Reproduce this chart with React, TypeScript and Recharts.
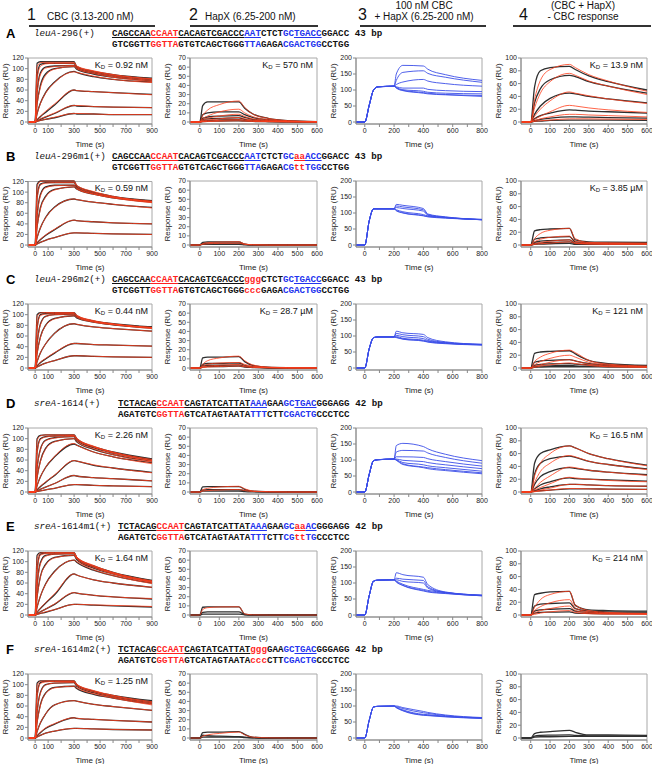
import React from "react";
import { LineChart, Line, XAxis, YAxis, ReferenceArea } from "recharts";

// sample times (s) per column
const T1 = [-55, 0, 15, 40, 80, 150, 300, 320, 450, 600, 900];
const T2 = [-50, 0, 15, 40, 100, 200, 230, 270, 350, 450, 600];
const T3 = [-60, 0, 30, 60, 90, 200, 215, 260, 400, 430, 550, 800];
const T4 = [-50, 0, 20, 50, 100, 200, 230, 300, 400, 600];

const HEADERS = ["CBC (3.13-200 nM)", "HapX (6.25-200 nM)"];
const HEADER3 = ["100 nM CBC", "+ HapX (6.25-200 nM)"];
const HEADER4 = ["(CBC + HapX)", "- CBC response"];

const LETTERS = ["A", "B", "C", "D", "E", "F"];
const GENES = ["leuA", "leuA", "leuA", "sreA", "sreA", "sreA"];
const SITES = ["-296(+)", "-296m1(+)", "-296m2(+)", "-1614(+)", "-1614m1(+)", "-1614m2(+)"];
const LENGTHS = ["43 bp", "43 bp", "43 bp", "42 bp", "42 bp", "42 bp"];

const TOP_STRANDS = [
  "CAGCCAA|r:CCAAT|CACAGTCGACCC|b:AAT|CTCT|b:GCTGACC|GGACC",
  "CAGCCAA|r:CCAAT|CACAGTCGACCC|b:AAT|CTCT|b:GC|r:aa|b:ACC|GGACC",
  "CAGCCAA|r:CCAAT|CACAGTCGACCC|r:ggg|CTCT|b:GCTGACC|GGACC",
  "TCTACAG|r:CCAAT|CAGTATCATTAT|b:AAA|GAA|b:GCTGAC|GGGAGG",
  "TCTACAG|r:CCAAT|CAGTATCATTAT|b:AAA|GAA|b:GC|r:aa|b:AC|GGGAGG",
  "TCTACAG|r:CCAAT|CAGTATCATTAT|r:ggg|GAA|b:GCTGAC|GGGAGG",
];
const BOTTOM_STRANDS = [
  "GTCGGTT|r:GGTTA|GTGTCAGCTGGG|b:TTA|GAGA|b:CGACTGG|CCTGG",
  "GTCGGTT|r:GGTTA|GTGTCAGCTGGG|b:TTA|GAGA|b:CG|r:tt|b:TGG|CCTGG",
  "GTCGGTT|r:GGTTA|GTGTCAGCTGGG|r:ccc|GAGA|b:CGACTGG|CCTGG",
  "AGATGTC|r:GGTTA|GTCATAGTAATA|b:TTT|CTT|b:CGACTG|CCCTCC",
  "AGATGTC|r:GGTTA|GTCATAGTAATA|b:TTT|CTT|b:CG|r:tt|b:TG|CCCTCC",
  "AGATGTC|r:GGTTA|GTCATAGTAATA|r:ccc|CTT|b:CGACTG|CCCTCC",
];
const UNDERLINES = [
  [[0, 27], [33, 38]],
  [[0, 27], [33, 38]],
  [[0, 27], [33, 38]],
  [[0, 27], [32, 36]],
  [[0, 27], [32, 36]],
  [[0, 27], [32, 36]],
];

const KD_COL1 = ["0.92 nM", "0.59 nM", "0.44 nM", "2.26 nM", "1.64 nM", "1.25 nM"];
const KD_COL2 = ["570 nM", "", "28.7 \u00b5M", "", "", ""];
const KD_COL4 = ["13.9 nM", "3.85 \u00b5M", "121 nM", "16.5 nM", "214 nM", ""];

// ---- row A
const A1_OBS = [
  [0, 0, 110, 113, 113, 113, 113, 104, 95, 89, 82],
  [0, 0, 85, 108, 110, 110, 110, 103, 94, 88, 81],
  [0, 0, 55, 92, 103, 105, 106, 101, 92, 86, 79],
  [0, 0, 35, 68, 90, 100, 104, 99, 90, 84, 77],
  [0, 0, 16, 35, 55, 75, 95, 93, 85, 80, 75],
  [0, 0, 4, 10, 18, 32, 60, 59, 57, 55, 52],
  [0, 0, 2, 5, 9, 16, 31, 30, 29, 28, 27],
  [0, 0, 1, 3, 5, 8, 16, 15, 15, 14, 14],
];
const A1_FIT = [
  [0, 0, 104, 111, 112, 112, 112, 105, 96, 89, 81],
  [0, 0, 80, 104, 109, 110, 110, 104, 95, 88, 80],
  [0, 0, 52, 88, 101, 104, 106, 102, 93, 86, 78],
  [0, 0, 33, 64, 87, 99, 104, 100, 91, 84, 76],
  [0, 0, 16, 34, 54, 74, 94, 93, 86, 80, 74],
  [0, 0, 5, 11, 20, 34, 60, 59, 57, 55, 51],
  [0, 0, 2, 6, 10, 17, 31, 31, 29, 28, 27],
  [0, 0, 1, 3, 5, 9, 16, 16, 15, 14, 14],
];
const A2_OBS = [
  [0, 0, 18, 22, 22, 22, 15, 9, 4, 1.5, 0.5],
  [0, 0, 8, 10, 11, 11, 8, 5, 2.5, 1, 0.3],
  [0, 0, 4, 5.5, 6.5, 7, 5, 3, 1.5, 0.6, 0.2],
  [0, 0, 2.5, 3.5, 4, 4.5, 3, 2, 1, 0.4, 0.1],
  [0, 0, 1.2, 1.8, 2.2, 2.5, 1.8, 1.2, 0.6, 0.2, 0],
  [0, 0, 0.5, 0.8, 1, 1.2, 0.9, 0.6, 0.3, 0.1, 0],
];
const A2_FIT = [
  [0, 0, 7, 13, 19, 23, 16, 9, 4, 1.5, 0.5],
  [0, 0, 3.5, 6.5, 11, 14, 10, 6, 2.5, 1, 0.3],
  [0, 0, 2, 4, 6.5, 8.5, 6, 3.5, 1.5, 0.6, 0.2],
  [0, 0, 1, 2, 3.5, 5, 3.5, 2, 1, 0.4, 0.1],
  [0, 0, 0.5, 1, 1.8, 2.7, 2, 1.2, 0.6, 0.2, 0],
  [0, 0, 0.3, 0.5, 0.9, 1.4, 1, 0.6, 0.3, 0.1, 0],
];
const A3_MIX = [
  [0, 0, 52, 100, 110, 112, 150, 177, 175, 165, 148, 130],
  [0, 0, 52, 100, 110, 112, 130, 155, 160, 152, 140, 124],
  [0, 0, 52, 100, 110, 112, 117, 125, 133, 128, 120, 112],
  [0, 0, 52, 100, 110, 112, 110, 106, 106, 102, 98, 95],
  [0, 0, 52, 100, 110, 112, 108, 101, 96, 93, 90, 88],
  [0, 0, 52, 100, 110, 112, 107, 99, 92, 90, 86, 83],
  [0, 0, 52, 100, 110, 112, 106, 98, 90, 88, 85, 80],
];
const A4_OBS = [
  [0, 0, 55, 80, 85, 87, 82, 72, 63, 50],
  [0, 0, 30, 52, 66, 73, 71, 63, 56, 45],
  [0, 0, 12, 25, 37, 45, 44, 40, 36, 30],
  [0, 0, 5, 10, 14, 19, 18.5, 17, 16, 14],
  [0, 0, 2, 4, 6, 8, 8, 7.5, 7, 6],
  [0, 0, 1, 1.5, 2.5, 3, 3, 3, 3, 2.5],
];
const A4_FIT = [
  [0, 0, 35, 65, 82, 90, 85, 74, 64, 48],
  [0, 0, 22, 45, 63, 76, 73, 64, 56, 43],
  [0, 0, 9, 20, 33, 47, 45, 41, 36, 29],
  [0, 0, 4, 9, 16, 26, 25, 22, 19, 15],
  [0, 0, 2, 5, 8, 12, 12, 11, 10, 8],
  [0, 0, 1, 2, 3, 5, 5, 5, 4.5, 4],
];

// ---- row B
const B1_OBS = [
  [0, 0, 115, 121, 121, 121, 121, 112, 100, 92, 84],
  [0, 0, 90, 115, 118, 118, 118, 110, 99, 91, 83],
  [0, 0, 55, 95, 110, 113, 113, 108, 97, 90, 82],
  [0, 0, 35, 70, 92, 105, 110, 106, 96, 89, 81],
  [0, 0, 14, 32, 52, 72, 87, 86, 81, 77, 71],
  [0, 0, 4, 10, 18, 29, 47, 46, 44, 42, 40],
  [0, 0, 2, 5, 9, 14, 23, 23, 22, 21, 20],
];
const B1_FIT = [
  [0, 0, 110, 120, 121, 121, 121, 113, 101, 92, 83],
  [0, 0, 86, 113, 117, 118, 118, 111, 99, 91, 82],
  [0, 0, 52, 92, 108, 112, 113, 108, 97, 90, 81],
  [0, 0, 33, 67, 90, 104, 110, 106, 96, 89, 80],
  [0, 0, 14, 32, 51, 71, 87, 86, 81, 77, 70],
  [0, 0, 5, 11, 19, 30, 47, 46, 44, 42, 40],
  [0, 0, 2, 5, 9, 14, 23, 23, 22, 21, 20],
];
const B2_OBS = [
  [0, 0, 3, 3.5, 3.5, 3.5, 1, 0.3, 0, 0, 0],
  [0, 0, 1.5, 2, 2, 2, 0.6, 0.2, 0, 0, 0],
  [0, 0, 0.6, 0.8, 0.8, 0.8, 0.3, 0, 0, 0, 0],
];
const B2_FIT = [
  [0, 0, 1.5, 2.5, 3.2, 3.6, 1.2, 0.3, 0, 0, 0],
  [0, 0, 0.8, 1.3, 1.8, 2, 0.7, 0.2, 0, 0, 0],
];
const B3_MIX = [
  [0, 0, 75, 113, 113, 113, 127, 124, 114, 97, 88, 80],
  [0, 0, 75, 113, 113, 113, 122, 119, 110, 95, 87, 80],
  [0, 0, 75, 113, 113, 113, 117, 114, 106, 93, 86, 79],
  [0, 0, 75, 113, 113, 113, 110, 104, 95, 91, 86, 79],
  [0, 0, 75, 113, 113, 113, 108, 101, 92, 89, 85, 79],
  [0, 0, 75, 113, 113, 113, 107, 100, 91, 88, 84, 79],
];
const B4_OBS = [
  [0, 0, 22, 24, 25, 26, 8, 5, 4.5, 4],
  [0, 0, 9, 11, 12, 13, 5, 3.5, 3, 3],
  [0, 0, 4, 6, 7, 8, 3, 2.5, 2, 2],
  [0, 0, 2, 3, 4, 5, 2, 1.5, 1.5, 1.5],
  [0, 0, 1, 1.5, 2, 2.5, 1, 1, 1, 1],
];
const B4_FIT = [
  [0, 0, 10, 18, 23, 26, 10, 4, 3.5, 3],
  [0, 0, 5, 9, 12, 14, 6, 3, 2.5, 2],
  [0, 0, 2, 4, 6, 8, 3.5, 2, 1.5, 1.5],
  [0, 0, 1, 2, 3, 5, 2.5, 1.5, 1, 1],
];

// ---- row C
const C1_OBS = [
  [0, 0, 100, 104, 104, 104, 104, 98, 88, 83, 77],
  [0, 0, 75, 100, 102, 102, 102, 97, 88, 82, 77],
  [0, 0, 45, 82, 97, 100, 101, 96, 87, 82, 76],
  [0, 0, 28, 58, 80, 93, 98, 94, 86, 81, 75],
  [0, 0, 12, 28, 45, 65, 83, 82, 77, 74, 69],
  [0, 0, 4, 10, 17, 28, 46, 46, 44, 43, 41],
  [0, 0, 2, 5, 9, 14, 23, 23, 22, 21, 20],
];
const C1_FIT = [
  [0, 0, 96, 103, 104, 104, 104, 99, 89, 83, 76],
  [0, 0, 72, 98, 101, 102, 102, 98, 88, 82, 76],
  [0, 0, 43, 80, 96, 100, 101, 97, 87, 82, 75],
  [0, 0, 27, 56, 79, 92, 98, 95, 86, 81, 74],
  [0, 0, 12, 28, 45, 65, 83, 82, 77, 74, 69],
  [0, 0, 5, 11, 18, 29, 46, 46, 44, 43, 41],
  [0, 0, 2, 5, 9, 14, 23, 23, 22, 21, 20],
];
const C2_OBS = [
  [0, 0, 11, 12, 12, 12.5, 7, 3, 1, 0.5, 0.3],
  [0, 0, 4, 5, 5, 5.5, 3, 1.5, 0.5, 0.2, 0],
  [0, 0, 2.5, 3, 3, 3.5, 2, 1, 0.3, 0, 0],
  [0, 0, 1, 1.5, 1.5, 2, 1, 0.5, 0, 0, 0],
];
const C2_FIT = [
  [0, 0, 4, 8, 11, 13, 8, 3.5, 1, 0.4, 0.2],
  [0, 0, 2, 4, 5.5, 6, 4, 2, 0.6, 0.2, 0],
  [0, 0, 1, 2, 3, 3.8, 2.5, 1.2, 0.4, 0, 0],
  [0, 0, 0.5, 1, 1.6, 2.2, 1.4, 0.6, 0.2, 0, 0],
];
const C3_MIX = [
  [0, 0, 60, 95, 97, 97, 115, 110, 105, 95, 82, 74],
  [0, 0, 60, 95, 97, 97, 108, 104, 98, 90, 80, 74],
  [0, 0, 60, 95, 97, 97, 102, 98, 92, 86, 79, 73],
  [0, 0, 60, 95, 97, 97, 98, 93, 87, 84, 78, 73],
  [0, 0, 60, 95, 97, 97, 96, 91, 85, 82, 77, 72],
  [0, 0, 60, 95, 97, 97, 95, 90, 84, 81, 76, 72],
];
const C4_OBS = [
  [0, 0, 23, 25, 26, 27, 22, 12, 7, 4],
  [0, 0, 9, 11, 12, 13, 11, 7, 5, 3.5],
  [0, 0, 4, 5.5, 6.5, 7, 6, 5, 4, 3],
  [0, 0, 2, 3, 3.5, 4, 3.5, 3, 2.5, 2],
  [0, 0, 1, 1.5, 2, 2, 2, 2, 1.5, 1.5],
];
const C4_FIT = [
  [0, 0, 10, 17, 23, 28, 24, 12, 6, 3],
  [0, 0, 5, 10, 15, 20, 17, 9, 4.5, 2],
  [0, 0, 2.5, 5, 9, 13, 11, 6, 3, 1.5],
  [0, 0, 1, 3, 5, 8, 7, 4, 2, 1],
];

// ---- row D
const D1_OBS = [
  [0, 0, 100, 106, 107, 107, 107, 100, 85, 75, 62],
  [0, 0, 75, 100, 104, 105, 106, 99, 84, 74, 61],
  [0, 0, 45, 80, 97, 102, 104, 97, 83, 73, 60],
  [0, 0, 28, 58, 82, 95, 100, 94, 80, 70, 58],
  [0, 0, 12, 28, 46, 66, 90, 88, 75, 66, 55],
  [0, 0, 4, 10, 18, 31, 59, 58, 50, 45, 37],
  [0, 0, 2, 5, 9, 16, 31, 30, 27, 25, 21],
  [0, 0, 1, 2, 4, 7, 14, 14, 12.5, 11.5, 10],
];
const D1_FIT = [
  [0, 0, 96, 105, 107, 107, 107, 101, 86, 75, 61],
  [0, 0, 72, 98, 103, 105, 106, 100, 85, 74, 59],
  [0, 0, 43, 78, 96, 101, 104, 98, 84, 73, 58],
  [0, 0, 27, 56, 80, 94, 100, 95, 81, 70, 56],
  [0, 0, 12, 28, 46, 67, 91, 88, 75, 66, 53],
  [0, 0, 5, 11, 19, 32, 59, 58, 51, 45, 36],
  [0, 0, 2, 5, 9, 16, 31, 30, 27, 25, 21],
  [0, 0, 1, 2, 4, 7, 14, 14, 12.5, 11.5, 10],
];
const D2_OBS = [
  [0, 0, 5.5, 6, 6, 6, 3, 1, 0.3, 0, 0],
  [0, 0, 2, 2.5, 2.5, 2.5, 1.5, 0.6, 0.2, 0, 0],
  [0, 0, 1, 1, 1, 1, 0.5, 0.2, 0, 0, 0],
];
const D2_FIT = [
  [0, 0, 2.5, 4, 5.5, 6.3, 3.5, 1.2, 0.3, 0, 0],
  [0, 0, 1, 1.6, 2.2, 2.7, 1.6, 0.6, 0.2, 0, 0],
];
const D3_MIX = [
  [0, 0, 55, 98, 101, 103, 145, 152, 142, 135, 118, 98],
  [0, 0, 55, 98, 101, 103, 125, 130, 128, 122, 108, 90],
  [0, 0, 55, 98, 101, 103, 110, 110, 108, 104, 95, 81],
  [0, 0, 55, 98, 101, 103, 103, 99, 95, 92, 85, 73],
  [0, 0, 55, 98, 101, 103, 101, 92, 85, 82, 76, 65],
  [0, 0, 55, 98, 101, 103, 100, 88, 78, 76, 70, 60],
  [0, 0, 55, 98, 101, 103, 99, 86, 76, 73, 67, 57],
];
const D4_OBS = [
  [0, 0, 45, 60, 66, 72, 69, 60, 52, 42],
  [0, 0, 28, 45, 52, 56, 54, 48, 43, 36],
  [0, 0, 12, 24, 32, 38, 37, 34, 31, 27],
  [0, 0, 5, 11, 16, 22, 21, 20, 19, 17],
  [0, 0, 2, 5, 8, 12, 12, 11, 10, 9],
  [0, 0, 1, 2, 3, 5, 5, 5, 4.5, 4],
];
const D4_FIT = [
  [0, 0, 25, 45, 60, 72, 69, 60, 52, 41],
  [0, 0, 15, 32, 45, 57, 55, 48, 43, 35],
  [0, 0, 6, 15, 25, 39, 38, 34, 31, 26],
  [0, 0, 3, 7, 13, 23, 22, 20, 18, 16],
  [0, 0, 1, 3, 6, 12, 12, 11, 10, 9],
  [0, 0, 0.5, 1.5, 3, 5.5, 5.5, 5, 4.5, 4],
];

// ---- row E
const E1_OBS = [
  [0, 0, 112, 117, 117, 117, 117, 108, 92, 80, 65],
  [0, 0, 85, 114, 116, 116, 116, 107, 91, 79, 64],
  [0, 0, 55, 98, 112, 114, 115, 106, 90, 78, 63],
  [0, 0, 35, 72, 95, 108, 112, 104, 88, 77, 62],
  [0, 0, 15, 35, 58, 82, 103, 99, 84, 74, 60],
  [0, 0, 5, 12, 22, 38, 77, 75, 66, 60, 52],
  [0, 0, 2, 6, 11, 20, 42, 41, 37, 34, 30],
  [0, 0, 1, 3, 5, 10, 20, 20, 18.5, 17, 15],
];
const E1_FIT = [
  [0, 0, 106, 116, 117, 117, 117, 109, 93, 80, 64],
  [0, 0, 80, 112, 115, 116, 116, 108, 92, 79, 63],
  [0, 0, 52, 95, 110, 114, 115, 107, 91, 78, 62],
  [0, 0, 33, 70, 93, 107, 112, 105, 89, 77, 61],
  [0, 0, 15, 35, 57, 81, 103, 100, 85, 74, 59],
  [0, 0, 6, 13, 23, 40, 77, 75, 66, 60, 52],
  [0, 0, 2, 6, 11, 21, 42, 41, 37, 34, 31],
  [0, 0, 1, 3, 6, 10, 20, 20, 19, 18, 16],
];
const E2_OBS = [
  [0, 0, 8.5, 9, 9, 9, 1, 0.3, 0, 0, 0],
  [0, 0, 3, 3.5, 3.5, 3.5, 0.5, 0, 0, 0, 0],
  [0, 0, 1, 1, 1, 1, 0.2, 0, 0, 0, 0],
];
const E2_FIT = [[0, 0, 6, 8, 8.8, 9, 1.2, 0.2, 0, 0, 0]];
const E3_MIX = [
  [0, 0, 60, 106, 109, 110, 132, 126, 118, 95, 72, 62],
  [0, 0, 60, 106, 109, 110, 115, 112, 108, 88, 71, 62],
  [0, 0, 60, 106, 109, 110, 110, 105, 100, 84, 70, 61],
  [0, 0, 60, 106, 109, 110, 106, 96, 80, 77, 70, 61],
  [0, 0, 60, 106, 109, 110, 104, 93, 77, 74, 68, 60],
  [0, 0, 60, 106, 109, 110, 103, 92, 75, 72, 67, 60],
];
const E4_OBS = [
  [0, 0, 32, 34, 36, 37, 15, 8, 7, 6],
  [0, 0, 14, 17, 18, 19, 10, 6, 5, 4.5],
  [0, 0, 6, 8, 9, 10, 6, 4, 3.5, 3],
  [0, 0, 3, 4, 4.5, 5, 3, 2.5, 2, 2],
];
const E4_FIT = [
  [0, 0, 12, 24, 32, 37, 16, 7, 4, 2.5],
  [0, 0, 7, 13, 19, 24, 11, 5, 3, 2],
  [0, 0, 3, 7, 10, 14, 7, 3.5, 2, 1.5],
  [0, 0, 1, 3, 5, 7, 4, 2, 1.5, 1],
];

// ---- row F
const F1_OBS = [
  [0, 0, 103, 107, 107, 107, 107, 100, 88, 80, 70],
  [0, 0, 80, 104, 106, 106, 106, 99, 87, 79, 68],
  [0, 0, 48, 85, 100, 103, 104, 97, 85, 77, 66],
  [0, 0, 30, 62, 84, 95, 97, 93, 82, 75, 64],
  [0, 0, 12, 28, 45, 62, 70, 69, 63, 59, 52],
  [0, 0, 4, 10, 18, 26, 38, 37, 35, 33, 30],
  [0, 0, 2, 5, 9, 13, 18, 18, 17, 16, 15],
];
const F1_FIT = [
  [0, 0, 98, 106, 107, 107, 107, 101, 89, 80, 68],
  [0, 0, 76, 102, 105, 106, 106, 100, 88, 79, 66],
  [0, 0, 46, 83, 99, 103, 104, 98, 86, 77, 64],
  [0, 0, 29, 60, 83, 94, 97, 94, 83, 75, 62],
  [0, 0, 12, 28, 45, 62, 70, 69, 63, 59, 52],
  [0, 0, 5, 11, 19, 27, 38, 37, 35, 33, 30],
  [0, 0, 2, 5, 9, 13, 18, 18, 17, 16, 15],
];
const F2_OBS = [
  [0, 0, 6, 6.5, 6.5, 7, 4, 1, 0, 0, 0],
  [0, 0, 3, 2.5, 2, 1.5, 1, 0.3, 0, 0, 0],
  [0, 0, 1, 1, 1, 1, 0.5, 0.1, 0, 0, 0],
];
const F2_FIT = [[0, 0, 2, 3.5, 5, 6.5, 3.5, 1, 0.2, 0, 0]];
const F3_MIX = [
  [0, 0, 55, 97, 99, 100, 100, 95, 83, 80, 72, 64],
  [0, 0, 55, 97, 99, 100, 98, 92, 79, 77, 70, 63],
  [0, 0, 55, 97, 99, 100, 96, 88, 74, 73, 68, 62],
  [0, 0, 55, 97, 99, 100, 95, 86, 72, 71, 67, 62],
  [0, 0, 55, 97, 99, 100, 95, 85, 71, 70, 66, 61],
];
const F4_OBS = [
  [0, 0, 7, 9, 10, 12, 9, 5, 5, 4],
  [0, 0, 3, 4, 4.5, 5, 4, 3.5, 3.5, 3],
  [0, 0, 1.5, 2, 2, 2.5, 2.5, 2.5, 2.5, 2.5],
];

// ---- layout
const ROW_Y = [34, 157, 280, 404, 527, 650];
const SEQ_X = [112, 112, 112, 118, 118, 118];
const FRAME_L = [28, 190, 356, 521];
const FRAME_W = [124, 127, 126, 126];
const RED = "#ff3d1a";
const BLUE = "#3b4ee8";
const DARK = "#2f2f2f";
const TXT_RED = "#ff1f1f";
const TXT_BLUE = "#2233ee";
const SANS = "'Liberation Sans', Arial, sans-serif";
const MONO = "'Liberation Mono', 'Courier New', monospace";

const range = (a: number, b: number, s: number) => {
  const out: number[] = [];
  for (let v = a; v <= b; v += s) out.push(v);
  return out;
};

const COLS = [
  { times: T1, dom: [-55, 900], ticks: range(0, 900, 100), labels: [0, 100, 300, 500, 700, 900], yMax: 120, yTicks: range(0, 120, 20) },
  { times: T2, dom: [-50, 600], ticks: range(0, 600, 100), labels: range(0, 600, 100), yMax: 70, yTicks: range(0, 70, 10) },
  { times: T3, dom: [-60, 800], ticks: range(0, 800, 100), labels: range(0, 800, 200), yMax: 200, yTicks: range(0, 200, 50) },
  { times: T4, dom: [-50, 600], ticks: range(0, 600, 100), labels: range(0, 600, 100), yMax: 100, yTicks: range(0, 100, 20) },
];

const PANELS = [
  [[A1_OBS, A1_FIT], [A2_OBS, A2_FIT], [A3_MIX], [A4_OBS, A4_FIT]],
  [[B1_OBS, B1_FIT], [B2_OBS, B2_FIT], [B3_MIX], [B4_OBS, B4_FIT]],
  [[C1_OBS, C1_FIT], [C2_OBS, C2_FIT], [C3_MIX], [C4_OBS, C4_FIT]],
  [[D1_OBS, D1_FIT], [D2_OBS, D2_FIT], [D3_MIX], [D4_OBS, D4_FIT]],
  [[E1_OBS, E1_FIT], [E2_OBS, E2_FIT], [E3_MIX], [E4_OBS, E4_FIT]],
  [[F1_OBS, F1_FIT], [F2_OBS, F2_FIT], [F3_MIX], [F4_OBS, []]],
];

function Panel({ row, col }: { row: number; col: number }) {
  const c = COLS[col];
  const sets = PANELS[row][col];
  const isMix = col === 2;
  const obs = isMix ? [] : sets[0];
  const fit = isMix ? [] : sets[1];
  const mix = isMix ? sets[0] : [];
  const kd = col === 0 ? KD_COL1[row] : col === 1 ? KD_COL2[row] : col === 3 ? KD_COL4[row] : "";
  const yMin = -c.yMax * 0.031;
  const w = 30 + FRAME_W[col] + 8;

  const data = c.times.map((t, i) => {
    const d: Record<string, number> = { t };
    obs.forEach((s: number[], j: number) => (d["o" + j] = s[i]));
    fit.forEach((s: number[], j: number) => (d["f" + j] = s[i]));
    mix.forEach((s: number[], j: number) => (d["m" + j] = s[i]));
    return d;
  });

  const tickStyle = { fontSize: 7, fill: "#222", fontFamily: SANS };

  return (
    <div style={{ position: "absolute", left: FRAME_L[col] - 30, top: ROW_Y[row] + 20, width: w, height: 98 }}>
      <LineChart width={w} height={98} data={data} margin={{ top: 4, right: 8, left: 0, bottom: 0 }}>
        <XAxis
          dataKey="t"
          type="number"
          domain={c.dom}
          ticks={c.ticks}
          interval={0}
          tickFormatter={(v: number) => (c.labels.includes(v) ? String(v) : "")}
          tick={tickStyle}
          tickSize={3}
          tickMargin={1}
          height={28}
          stroke="#888"
          label={{ value: "Time (s)", position: "insideBottom", offset: 5, style: { fontSize: 8, fill: "#222", fontFamily: SANS } }}
        />
        <YAxis
          type="number"
          domain={[yMin, c.yMax]}
          ticks={c.yTicks}
          interval={0}
          tick={tickStyle}
          tickSize={3}
          tickMargin={1}
          width={30}
          stroke="#888"
          label={{ value: "Response (RU)", angle: -90, position: "insideLeft", offset: 7, style: { fontSize: 8, fill: "#222", fontFamily: SANS, textAnchor: "middle" } }}
        />
        <ReferenceArea x1={c.dom[0]} x2={c.dom[1]} y1={yMin} y2={c.yMax} fill="none" fillOpacity={0} stroke="#a8a8a8" strokeWidth={1} />
        {obs.map((_: number[], j: number) => (
          <Line key={"o" + j} dataKey={"o" + j} type="monotone" stroke={DARK} strokeWidth={1.3} dot={false} activeDot={false} isAnimationActive={false} />
        ))}
        {fit.map((_: number[], j: number) => (
          <Line key={"f" + j} dataKey={"f" + j} type="monotone" stroke={RED} strokeWidth={0.8} dot={false} activeDot={false} isAnimationActive={false} />
        ))}
        {mix.map((_: number[], j: number) => (
          <Line key={"m" + j} dataKey={"m" + j} type="monotone" stroke={BLUE} strokeWidth={0.9} dot={false} activeDot={false} isAnimationActive={false} />
        ))}
      </LineChart>
      {kd && (
        <div style={{ position: "absolute", right: 12, top: 6, fontSize: 9, lineHeight: "10px", fontFamily: SANS, color: "#111", whiteSpace: "nowrap" }}>
          K<sub style={{ fontSize: 6, verticalAlign: "-1px" }}>D</sub> = {kd}
        </div>
      )}
    </div>
  );
}

function Strand({ spec, ul, left, top, tail }: { spec: string; ul: number[][]; left: number; top: number; tail?: string }) {
  const chars: { ch: string; col: string; u: boolean }[] = [];
  spec.split("|").forEach((seg) => {
    let col = "#111";
    let txt = seg;
    if (seg.startsWith("r:")) { col = TXT_RED; txt = seg.slice(2); }
    else if (seg.startsWith("b:")) { col = TXT_BLUE; txt = seg.slice(2); }
    for (const ch of txt) {
      const i = chars.length;
      chars.push({ ch, col, u: ul.some(([a, b]) => i >= a && i < b) });
    }
  });
  const runs: { text: string; col: string; u: boolean }[] = [];
  chars.forEach((c) => {
    const last = runs[runs.length - 1];
    if (last && last.col === c.col && last.u === c.u) last.text += c.ch;
    else runs.push({ text: c.ch, col: c.col, u: c.u });
  });
  return (
    <div style={{ position: "absolute", left, top, fontFamily: MONO, fontSize: 9.2, fontWeight: "bold", lineHeight: "11px", whiteSpace: "pre" }}>
      {runs.map((r, i) => (
        <span key={i} style={{ color: r.col, textDecoration: r.u ? "underline" : "none", textUnderlineOffset: "1px" }}>{r.text}</span>
      ))}
      {tail ? <span style={{ color: "#111" }}>{" " + tail}</span> : null}
    </div>
  );
}

function Header() {
  const num = (n: string, left: number) => (
    <div style={{ position: "absolute", left, top: 6, fontSize: 16, lineHeight: "18px", fontFamily: SANS, color: "#111" }}>{n}</div>
  );
  const txt = (t: string, left: number, top: number, center?: boolean) => (
    <div style={{ position: "absolute", left: center ? left - 70 : left, width: center ? 140 : undefined, textAlign: center ? "center" : "left", top, fontSize: 10, lineHeight: "12px", fontFamily: SANS, color: "#111", whiteSpace: "nowrap" }}>{t}</div>
  );
  const bar = (l: number, r: number) => (
    <div style={{ position: "absolute", left: l, top: 25, width: r - l, height: 2, background: "#333" }} />
  );
  return (
    <>
      {num("1", 27)}{txt(HEADERS[0], 47, 11)}{bar(29, 155)}
      {num("2", 189)}{txt(HEADERS[1], 205, 11)}{bar(190, 318)}
      {num("3", 358)}{txt(HEADER3[0], 424, 0, true)}{txt(HEADER3[1], 424, 11, true)}{bar(360, 486)}
      {num("4", 519)}{txt(HEADER4[0], 583, 0, true)}{txt(HEADER4[1], 583, 11, true)}{bar(513, 651)}
    </>
  );
}

export default function App() {
  return (
    <div style={{ position: "absolute", left: 0, top: 0, width: 652, height: 764, overflow: "hidden", background: "#fff", fontFamily: SANS }}>
      <Header />
      {ROW_Y.map((y, r) => (
        <React.Fragment key={r}>
          <div style={{ position: "absolute", left: 6, top: y - 8, fontSize: 13, lineHeight: "16px", fontWeight: "bold", fontFamily: SANS }}>{LETTERS[r]}</div>
          <div style={{ position: "absolute", left: 34, top: y - 6.5, fontFamily: MONO, fontSize: 9.2, lineHeight: "11px", whiteSpace: "pre", color: "#111" }}>
            <i>{GENES[r]}</i>{SITES[r]}
          </div>
          <Strand spec={TOP_STRANDS[r]} ul={UNDERLINES[r]} left={SEQ_X[r]} top={y - 6.5} tail={LENGTHS[r]} />
          <Strand spec={BOTTOM_STRANDS[r]} ul={[]} left={SEQ_X[r]} top={y + 4.5} />
          {[0, 1, 2, 3].map((c) => (
            <Panel key={c} row={r} col={c} />
          ))}
        </React.Fragment>
      ))}
    </div>
  );
}
